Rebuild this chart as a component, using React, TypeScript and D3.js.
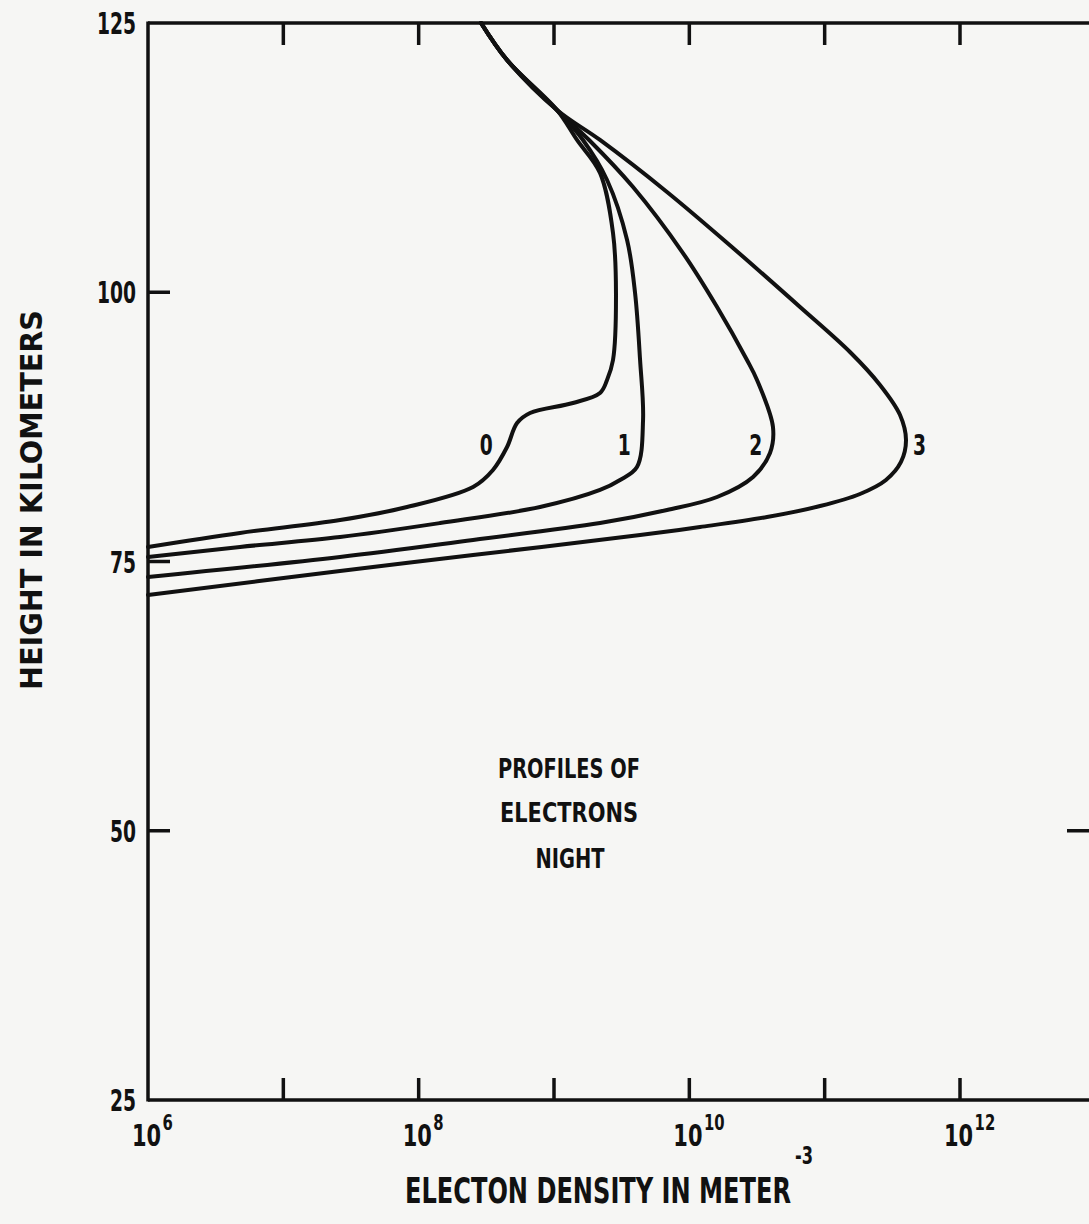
import * as d3 from "d3";
import React from "react";

// electron density profiles, night (log10 of density in m^-3 vs height in km)
const profileNames = ["0", "1", "2", "3"];

const logDensity0 = [8.461, 8.653, 9.022, 9.17, 9.34, 9.436, 9.458, 9.436, 9.392, 9.34, 9.14, 8.823, 8.727, 8.653, 8.549, 8.402, 7.914, 7.419, 6.68, 6.0];
const height0 = [125, 121.56, 116.92, 114.14, 111.07, 105.5, 99.93, 93.71, 91.85, 90.65, 89.72, 88.79, 87.86, 85.63, 83.5, 81.92, 80.06, 78.85, 77.65, 76.35];

const logDensity1 = [8.461, 8.653, 9.022, 9.214, 9.392, 9.54, 9.599, 9.636, 9.658, 9.613, 9.488, 9.34, 8.897, 8.158, 7.419, 6.68, 6.0];
const height1 = [125, 121.56, 116.92, 114.14, 110.42, 104.85, 99.93, 93.71, 88.14, 83.77, 82.57, 81.64, 80.06, 78.57, 77.27, 76.35, 75.42];

const logDensity2 = [8.461, 8.653, 9.022, 9.259, 9.584, 9.953, 10.205, 10.426, 10.5, 10.618, 10.596, 10.471, 10.205, 9.835, 9.34, 8.402, 7.419, 6.0];
const height2 = [125, 121.56, 116.92, 114.14, 109.77, 103.64, 98.63, 93.71, 91.85, 87.49, 85.07, 82.85, 80.99, 79.78, 78.57, 77.0, 75.42, 73.56];

const logDensity3 = [8.461, 8.653, 9.022, 9.34, 9.835, 10.323, 10.818, 11.187, 11.409, 11.557, 11.601, 11.564, 11.453, 11.261, 10.966, 10.574, 10.079, 9.636, 8.402, 7.419, 6.0];
const height3 = [125, 121.56, 116.92, 114.14, 109.31, 104.11, 98.63, 94.45, 91.39, 88.6, 86.28, 84.24, 82.57, 81.27, 80.15, 79.13, 78.2, 77.46, 75.6, 74.12, 71.89];

const labelLogDensity = [8.5, 9.52, 10.49, 11.7];
const labelHeight = [85.8, 85.8, 85.8, 85.8];

const yTickValues = [125, 100, 75, 50, 25];
const xLabelExponents = [6, 8, 10, 12];
const xTickExponents = [7, 8, 9, 10, 11, 12];

const W = 1089;
const H = 1224;
const left = 148;
const top = 23;
const bottom = 1100;
const ink = "#111";
const font = "'DejaVu Sans Condensed', 'DejaVu Sans', sans-serif";

export default function App() {
  const x = d3.scaleLog().domain([1e6, 1e12]).range([left, 960]);
  const y = d3.scaleLinear().domain([25, 125]).range([bottom, top]);

  const series = [
    [logDensity0, height0],
    [logDensity1, height1],
    [logDensity2, height2],
    [logDensity3, height3],
  ];

  const line = d3
    .line<[number, number]>()
    .x((d) => x(Math.pow(10, d[0])))
    .y((d) => y(d[1]))
    .curve(d3.curveCatmullRom.alpha(0.5));

  return (
    <svg
      width={W}
      height={H}
      style={{ position: "absolute", left: 0, top: 0, background: "#f6f6f4" }}
    >
      {/* frame */}
      <g stroke={ink} strokeWidth={3.5} fill="none">
        <line x1={left} y1={top} x2={W} y2={top} />
        <line x1={left} y1={top - 1.5} x2={left} y2={bottom + 1.5} />
        <line x1={left} y1={bottom} x2={W} y2={bottom} />
        {xTickExponents.map((e) => (
          <g key={e}>
            <line x1={x(Math.pow(10, e))} y1={top} x2={x(Math.pow(10, e))} y2={top + 22} />
            <line x1={x(Math.pow(10, e))} y1={bottom} x2={x(Math.pow(10, e))} y2={bottom - 22} />
          </g>
        ))}
        {[100, 75, 50].map((v) => (
          <line key={v} x1={left} y1={y(v)} x2={left + 22} y2={y(v)} />
        ))}
        <line x1={W - 22} y1={y(50)} x2={W} y2={y(50)} />
      </g>

      {/* y tick labels */}
      <g fontFamily={font} fontWeight="bold" fontSize={31} fill={ink} textAnchor="end">
        {yTickValues.map((v) => (
          <text
            key={v}
            x={136}
            y={y(v) + 11}
            textLength={String(v).length * 13}
            lengthAdjust="spacingAndGlyphs"
          >
            {v}
          </text>
        ))}
      </g>

      {/* x tick labels */}
      <g fontFamily={font} fontWeight="bold" fill={ink}>
        {xLabelExponents.map((e) => (
          <text
            key={e}
            transform={`translate(${x(Math.pow(10, e)) - 16},1146) scale(0.75,1)`}
            fontSize={31}
          >
            10
            <tspan dx={2} dy={-16} fontSize={22}>
              {e}
            </tspan>
          </text>
        ))}
      </g>

      {/* profiles */}
      <g fill="none" stroke={ink} strokeWidth={4} strokeLinejoin="round" strokeLinecap="round">
        {series.map(([ld, hh], i) => (
          <path
            key={i}
            d={line(ld.map((v, j) => [v, hh[j]] as [number, number])) || ""}
          />
        ))}
      </g>

      <g fontFamily={font} fontWeight="bold" fontSize={28} fill={ink} textAnchor="middle">
        {profileNames.map((n, i) => (
          <text
            key={n}
            x={x(Math.pow(10, labelLogDensity[i]))}
            y={y(labelHeight[i]) + 10}
            textLength={13}
            lengthAdjust="spacingAndGlyphs"
          >
            {n}
          </text>
        ))}
      </g>

      {/* annotation */}
      <g fontFamily={font} fontWeight="bold" fontSize={27} fill={ink} textAnchor="middle">
        <text x={569} y={778} textLength={142} lengthAdjust="spacingAndGlyphs">
          PROFILES OF
        </text>
        <text x={569} y={822} textLength={138} lengthAdjust="spacingAndGlyphs">
          ELECTRONS
        </text>
        <text x={570} y={868} textLength={69} lengthAdjust="spacingAndGlyphs">
          NIGHT
        </text>
      </g>

      {/* axis titles */}
      <g fontFamily={font} fontWeight="bold" fill={ink}>
        <text
          transform="translate(42,500) rotate(-90)"
          textAnchor="middle"
          fontSize={31}
          textLength={380}
          lengthAdjust="spacingAndGlyphs"
        >
          HEIGHT  IN  KILOMETERS
        </text>
        <text x={405} y={1203} fontSize={36} textLength={386} lengthAdjust="spacingAndGlyphs">
          ELECTON  DENSITY  IN  METER
        </text>
        <text x={795} y={1164} fontSize={24} textLength={18} lengthAdjust="spacingAndGlyphs">
          -3
        </text>
      </g>
    </svg>
  );
}
